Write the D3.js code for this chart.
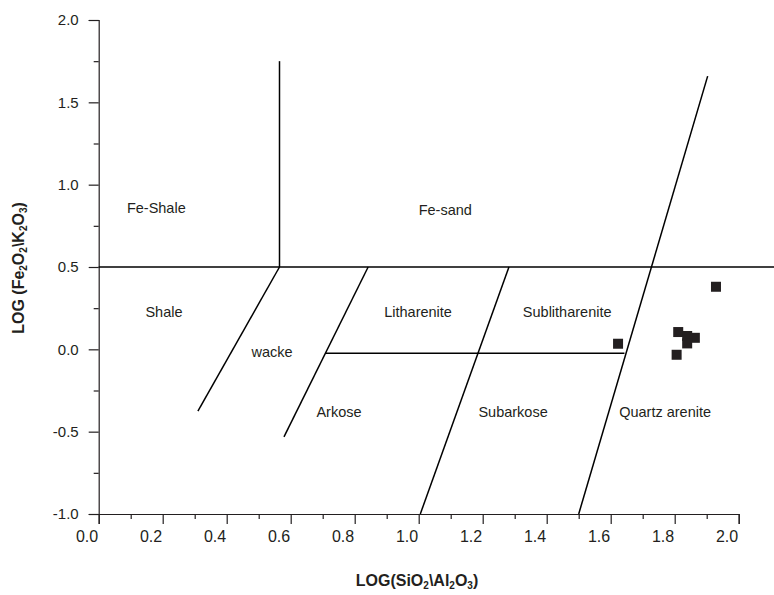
<!DOCTYPE html>
<html>
<head>
<meta charset="utf-8">
<script src="https://cdn.jsdelivr.net/npm/d3@7/dist/d3.min.js"></script>
<style>
  html, body { margin: 0; padding: 0; background: #fff; }
  svg { display: block; }
  text { font-family: "Liberation Sans", Arial, sans-serif; fill: #231f20; }
</style>
</head>
<body>
<svg id="chart" width="774" height="595"></svg>
<script>
// ---------- data ----------
const xTickValues = [0.0, 0.2, 0.4, 0.6, 0.8, 1.0, 1.2, 1.4, 1.6, 1.8, 2.0];
const xMinorValues = [0.1, 0.3, 0.5, 0.7, 0.9, 1.1, 1.3, 1.5, 1.7, 1.9];
const yTickValues = [-1.0, -0.5, 0.0, 0.5, 1.0, 1.5, 2.0];
const yMinorValues = [-0.75, -0.25, 0.25, 0.75, 1.25, 1.75];

// classification boundaries [x1, y1, x2, y2] in data units
const boundaryLines = [
  [0.0, 0.5, 2.12, 0.5],          // Fe-rich limit
  [0.565, 0.5, 0.565, 1.75],      // Fe-Shale / Fe-sand
  [0.565, 0.5, 0.31, -0.375],     // Shale / wacke
  [0.842, 0.5, 0.579, -0.532],    // wacke / Litharenite-Arkose
  [0.709, -0.024, 1.643, -0.024], // Litharenite / Arkose
  [1.282, 0.5, 1.005, -1.0],      // Litharenite / Sublitharenite
  [1.903, 1.659, 1.5, -1.0]       // Sublitharenite / Quartz arenite
];

const fieldNames = ["Fe-Shale", "Fe-sand", "Shale", "Litharenite", "Sublitharenite",
                    "wacke", "Arkose", "Subarkose", "Quartz arenite"];
const fieldX = [0.18, 1.083, 0.204, 0.998, 1.464, 0.542, 0.751, 1.295, 1.77];
const fieldY = [0.858, 0.846, 0.226, 0.226, 0.226, -0.016, -0.381, -0.381, -0.381];

const sampleX = [1.623, 1.811, 1.839, 1.863, 1.839, 1.806, 1.929];
const sampleY = [0.034, 0.105, 0.081, 0.070, 0.036, -0.033, 0.380];

// ---------- drawing ----------
const svg = d3.select("#chart");
const ink = "#231f20";
const fmt = d => d.toFixed(1);
const x = d3.scaleLinear().domain([0, 2]).range([98.7, 738.7]);
const y = d3.scaleLinear().domain([-1, 2]).range([514, 20]);

// x axis
const gx = svg.append("g").attr("transform", `translate(0,${y(-1)})`);
gx.call(d3.axisBottom(x).tickValues(xTickValues).tickSize(10).tickPadding(7).tickFormat(fmt));
const gxm = svg.append("g").attr("transform", `translate(0,${y(-1)})`);
gxm.call(d3.axisBottom(x).tickValues(xMinorValues).tickSize(5).tickFormat(""));
gxm.select(".domain").remove();

// y axis
const gy = svg.append("g").attr("transform", `translate(${x(0)},0)`);
gy.call(d3.axisLeft(y).tickValues(yTickValues).tickSize(10).tickPadding(10).tickFormat(fmt));
const gym = svg.append("g").attr("transform", `translate(${x(0)},0)`);
gym.call(d3.axisLeft(y).tickValues(yMinorValues).tickSize(5).tickFormat(""));
gym.select(".domain").remove();

svg.selectAll(".domain").attr("stroke", ink).attr("stroke-width", 1.2);
svg.selectAll(".tick line").attr("stroke", ink).attr("stroke-width", 1.2);
svg.selectAll(".tick text").attr("font-size", 15).attr("fill", ink)
  .attr("font-family", "'Liberation Sans', Arial, sans-serif");
gx.selectAll(".tick text").attr("text-anchor", "end").attr("x", -1)
  .attr("font-family", "'Liberation Sans Narrow', 'Liberation Sans', Arial, sans-serif")
  .attr("font-size", 16);

// boundaries
svg.append("g").selectAll("line").data(boundaryLines).join("line")
  .attr("x1", d => x(d[0])).attr("y1", d => y(d[1]))
  .attr("x2", d => x(d[2])).attr("y2", d => y(d[3]))
  .attr("stroke", "#000").attr("stroke-width", 1.5);

// field labels
svg.append("g").selectAll("text").data(fieldNames).join("text")
  .attr("x", (d, i) => x(fieldX[i])).attr("y", (d, i) => y(fieldY[i]))
  .attr("text-anchor", "middle").attr("dominant-baseline", "central")
  .attr("font-size", 14.5).text(d => d);

// samples
const sq = 10;
svg.append("g").selectAll("rect").data(sampleX).join("rect")
  .attr("x", d => x(d) - sq / 2).attr("y", (d, i) => y(sampleY[i]) - sq / 2)
  .attr("width", sq).attr("height", sq).attr("fill", ink);

// axis titles
const xt = svg.append("text").attr("x", 417).attr("y", 586)
  .attr("text-anchor", "middle").attr("font-weight", "bold").attr("font-size", 16)
  .attr("font-family", "'Liberation Sans Narrow', 'Liberation Sans', Arial, sans-serif");
xt.append("tspan").text("LOG(SiO");
xt.append("tspan").attr("font-size", 10).attr("dy", 3).text("2");
xt.append("tspan").attr("dy", -3).text("\\Al");
xt.append("tspan").attr("font-size", 10).attr("dy", 3).text("2");
xt.append("tspan").attr("dy", -3).text("O");
xt.append("tspan").attr("font-size", 10).attr("dy", 3).text("3");
xt.append("tspan").attr("dy", -3).text(")");

const yt = svg.append("text").attr("transform", `translate(24,268) rotate(-90)`)
  .attr("text-anchor", "middle").attr("font-weight", "bold").attr("font-size", 16);
yt.append("tspan").text("LOG (Fe");
yt.append("tspan").attr("font-size", 10).attr("dy", 3).text("2");
yt.append("tspan").attr("dy", -3).text("O");
yt.append("tspan").attr("font-size", 10).attr("dy", 3).text("2");
yt.append("tspan").attr("dy", -3).text("\\K");
yt.append("tspan").attr("font-size", 10).attr("dy", 3).text("2");
yt.append("tspan").attr("dy", -3).text("O");
yt.append("tspan").attr("font-size", 10).attr("dy", 3).text("3");
yt.append("tspan").attr("dy", -3).text(")");
</script>
</body>
</html>
